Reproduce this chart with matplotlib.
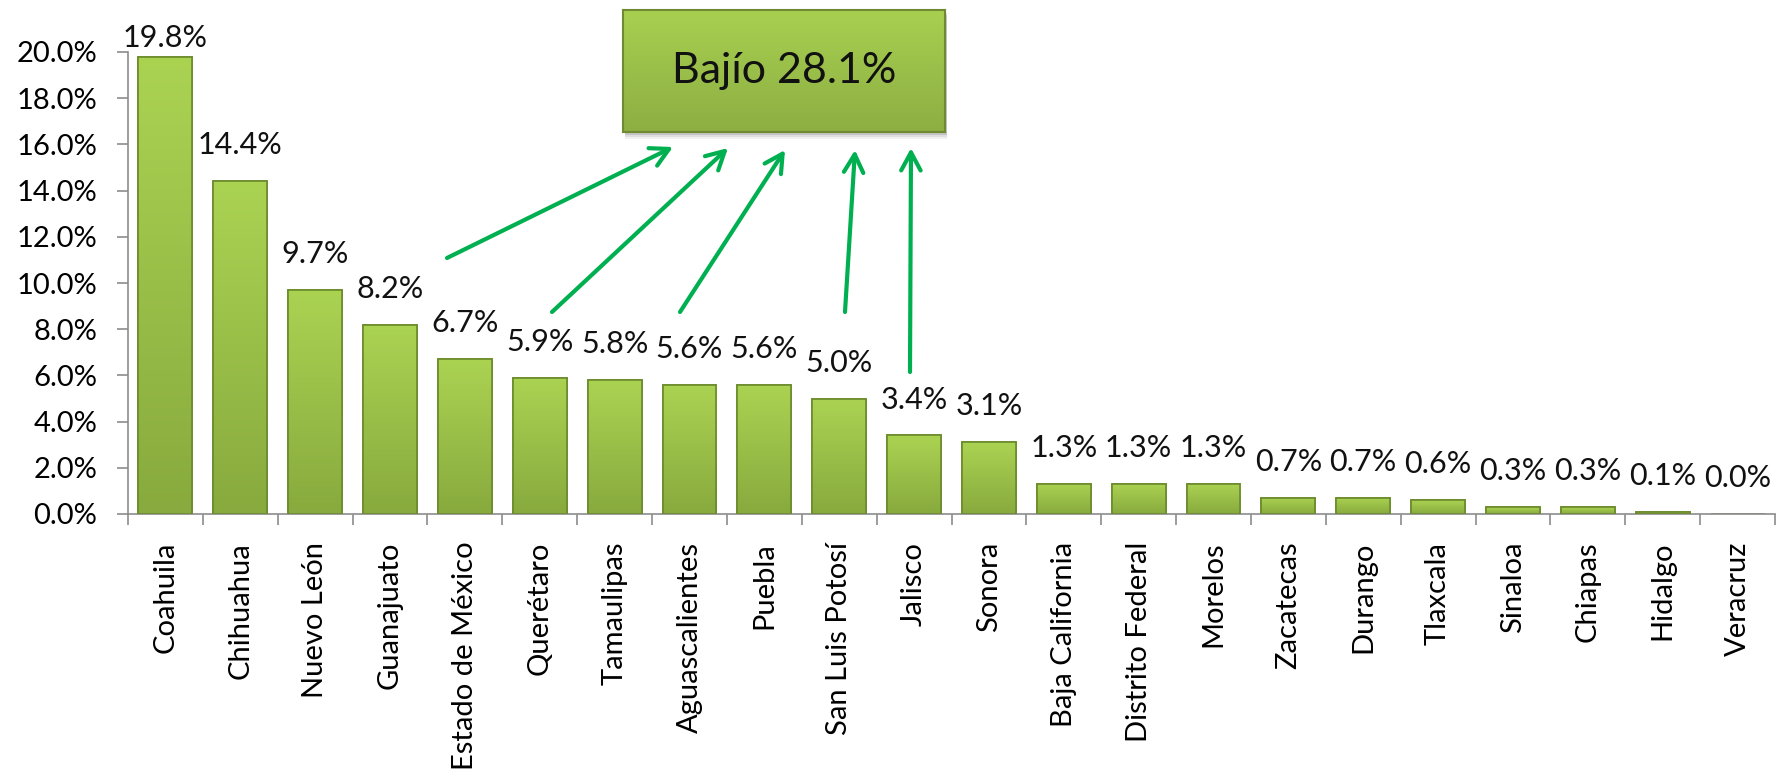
#!/usr/bin/env python3
"""Bar chart: share by state, with Bajío callout box and arrows."""
import matplotlib

matplotlib.use("Agg")
import matplotlib.pyplot as plt
import numpy as np
from matplotlib.colors import LinearSegmentedColormap
from matplotlib.patches import FancyArrowPatch, Rectangle

plt.rcParams["font.family"] = ["Lato", "DejaVu Sans"]

states = [
    "Coahuila", "Chihuahua", "Nuevo León", "Guanajuato", "Estado de México",
    "Querétaro", "Tamaulipas", "Aguascalientes", "Puebla", "San Luis Potosí",
    "Jalisco", "Sonora", "Baja California", "Distrito Federal", "Morelos",
    "Zacatecas", "Durango", "Tlaxcala", "Sinaloa", "Chiapas", "Hidalgo", "Veracruz",
]
share = [19.8, 14.4, 9.7, 8.2, 6.7, 5.9, 5.8, 5.6, 5.6, 5.0, 3.4, 3.1,
         1.3, 1.3, 1.3, 0.7, 0.7, 0.6, 0.3, 0.3, 0.1, 0.0]
yticks = np.arange(0, 20.1, 2.0)
callout_text = "Bajío 28.1%"

W, H = 1777, 776
C_TOP = "#abd352"
C_BOT = "#88aa3e"
C_EDGE = "#6b8a2c"
C_ARROW = "#00b050"
C_AXIS = "#8c8c8c"
YMAX = 20.0

fig = plt.figure(figsize=(W / 100, H / 100), dpi=100)
ax = fig.add_axes([128 / W, 1 - 514 / H, (1775 - 128) / W, (514 - 52) / H])
ax.set_zorder(0)
ax.patch.set_visible(False)

x = np.arange(len(states))
bars = ax.bar(x, share, width=0.72, color=C_BOT, edgecolor=C_EDGE, linewidth=1.2, zorder=2)

# vertical gradient inside each bar
cmap = LinearSegmentedColormap.from_list("g", [C_BOT, C_TOP])
grad = np.linspace(0, 1, 256).reshape(-1, 1)
for b in bars:
    if b.get_height() <= 0:
        continue
    im = ax.imshow(grad, cmap=cmap, origin="lower", aspect="auto", zorder=2,
                   extent=[b.get_x(), b.get_x() + b.get_width(), 0, b.get_height()])
    im.set_clip_path(b)
    ax.add_patch(Rectangle((b.get_x(), 0), b.get_width(), b.get_height(),
                           fill=False, edgecolor=C_EDGE, linewidth=1.2, zorder=3))

# value labels ~22 px above bars, kept inside the plot top (as Excel does)
lab_off = 0.95
for xi, v in zip(x, share):
    ax.text(xi, min(v + lab_off, YMAX), f"{v:.1f}%", ha="center", va="bottom",
            fontsize=22, color="#111111")

ax.set_xlim(-0.5, len(states) - 0.5)
ax.set_ylim(0, YMAX)
ax.set_yticks(yticks)
ax.set_yticklabels([f"{t:.1f}%" for t in yticks], fontsize=21)
ax.set_xticks(x)
ax.set_xticklabels(states, rotation=90, fontsize=21)
ax.set_xticks(np.arange(-0.5, len(states), 1.0), minor=True)
ax.tick_params(axis="x", which="major", length=0, pad=20)
ax.tick_params(axis="x", which="minor", length=8, color=C_AXIS, width=1.2)
ax.tick_params(axis="y", length=8, color=C_AXIS, width=1.2, pad=14)
for side in ("top", "right"):
    ax.spines[side].set_visible(False)
for side in ("left", "bottom"):
    ax.spines[side].set_color(C_AXIS)
    ax.spines[side].set_linewidth(1.2)

# callout box with soft shadow
bx0, by0, bx1, by1 = 623, 10, 945, 132
for k, a in ((7, 0.08), (5, 0.12), (3, 0.18)):
    fig.add_artist(Rectangle(((bx0 + 2) / W, 1 - (by1 + k) / H), (bx1 - bx0) / W, (by1 - by0) / H,
                             transform=fig.transFigure, facecolor="#555555", alpha=a,
                             edgecolor="none", zorder=1))
box = fig.add_axes([bx0 / W, 1 - by1 / H, (bx1 - bx0) / W, (by1 - by0) / H])
box.set_zorder(2)
box.imshow(grad, cmap=LinearSegmentedColormap.from_list("b", ["#8dae43", "#a8d050"]),
           origin="lower", aspect="auto", extent=[0, 1, 0, 1])
box.set_xlim(0, 1)
box.set_ylim(0, 1)
box.set_xticks([])
box.set_yticks([])
for s in box.spines.values():
    s.set_color("#6f8a32")
    s.set_linewidth(1.5)
box.text(0.5, 0.5, callout_text, ha="center", va="center", fontsize=31, color="#111111")

# arrows (figure pixels, y from top)
arrows = [
    ((447, 258), (673, 147)),
    ((552, 312), (728, 148)),
    ((680, 312), (785, 150)),
    ((845, 312), (855, 150)),
    ((910, 372), (911, 148)),
]
for (tx, ty), (hx, hy) in arrows:
    fig.add_artist(FancyArrowPatch(
        (tx / W, 1 - ty / H), (hx / W, 1 - hy / H), transform=fig.transFigure,
        arrowstyle="->,head_length=13,head_width=7", color=C_ARROW, lw=3,
        mutation_scale=1, shrinkA=0, shrinkB=0, zorder=3))

fig.savefig("out.png", dpi=100)
